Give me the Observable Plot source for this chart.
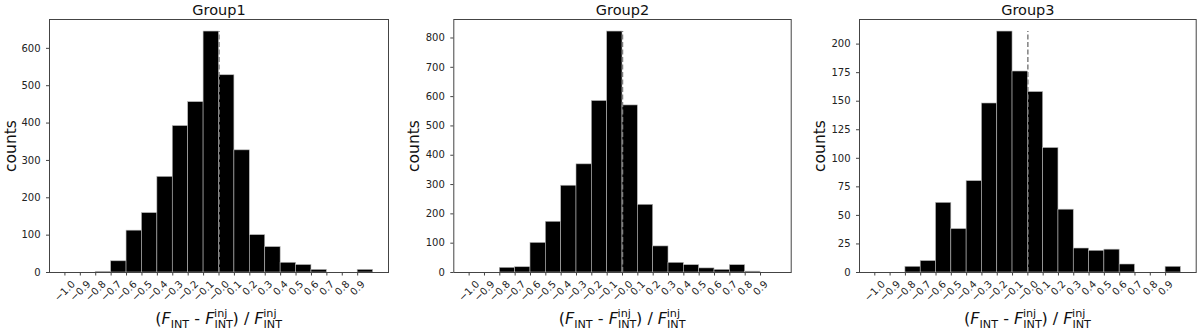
<!DOCTYPE html>
<html>
<head>
<meta charset="utf-8">
<script src="https://cdn.jsdelivr.net/npm/d3@7"></script>
<script src="https://cdn.jsdelivr.net/npm/@observablehq/plot@0.6"></script>
<style>
  body { margin: 0; background: #fff; }
  #wrap { display: flex; width: 1200px; height: 331px; overflow: hidden; }
</style>
</head>
<body>
<div id="wrap"></div>
<script>
// ---- data ----
const binStarts = [-1.0, -0.9, -0.8, -0.7, -0.6, -0.5, -0.4, -0.3, -0.2, -0.1, 0.0, 0.1, 0.2, 0.3, 0.4, 0.5, 0.6, 0.7, 0.8, 0.9];
const binWidth = 0.1;
const group1Counts = [0, 0, 2, 30, 112, 159, 256, 392, 456, 645, 528, 327, 100, 68, 26, 20, 7, 0, 0, 7];
const group2Counts = [0, 0, 16, 18, 101, 173, 296, 369, 585, 822, 570, 231, 89, 33, 25, 14, 9, 25, 3, 0];
const group3Counts = [0, 0, 5, 10, 61, 38, 80, 148, 211, 176, 158, 109, 55, 21, 19, 20, 7, 0, 0, 5];
const titles = ["Group1", "Group2", "Group3"];
const xTickValues = [-1.0, -0.9, -0.8, -0.7, -0.6, -0.5, -0.4, -0.3, -0.2, -0.1, 0.0, 0.1, 0.2, 0.3, 0.4, 0.5, 0.6, 0.7, 0.8, 0.9];
const xTickLabels = ["−1.0", "−0.9", "−0.8", "−0.7", "−0.6", "−0.5", "−0.4", "−0.3", "−0.2", "−0.1", "−0.0", "0.1", "0.2", "0.3", "0.4", "0.5", "0.6", "0.7", "0.8", "0.9"];
const yTicks1 = [0, 100, 200, 300, 400, 500, 600];
const yTicks2 = [0, 100, 200, 300, 400, 500, 600, 700, 800];
const yTicks3 = [0, 25, 50, 75, 100, 125, 150, 175, 200];
const yLabel = "counts";
const refLine = 0;

// ---- layout ----
const panels = [
  {title: titles[0], counts: group1Counts, yTicks: yTicks1, ml: 49, mr: 12, ylDx: -38},
  {title: titles[1], counts: group2Counts, yTicks: yTicks2, ml: 53.3, mr: 9.3, ylDx: -40},
  {title: titles[2], counts: group3Counts, yTicks: yTicks3, ml: 59, mr: 4.3, ylDx: -39.3}
];
const W = 400, H = 331, MT = 19, MB = 59;
const FONT = "DejaVu Sans";
const TICKFS = 10;

const xmin = binStarts[0], xmax = binStarts[binStarts.length - 1] + binWidth;
const xpad = (xmax - xmin) * 0.05;

const ticks = xTickValues.map((v, i) => ({v, label: xTickLabels[i]}));

function addXLabel(svg, cx, baseline) {
  const s = d3.select(svg);
  const big = 16, small = 11.2, dSub = 3.4, dSup = -7.4;
  const measure = (str, size) => {
    const t = s.append("text").style("font-family", FONT).style("font-size", size + "px").text(str);
    const w = t.node().getComputedTextLength();
    t.remove();
    return w;
  };
  const wINT = measure("INT", small), wInj = measure("inj", small);
  const t = s.append("text")
    .attr("x", cx).attr("y", baseline)
    .attr("text-anchor", "middle")
    .attr("fill", "#111")
    .style("font-family", FONT).style("font-size", big + "px");
  const span = (str, opts = {}) => {
    const e = t.append("tspan").text(str);
    if (opts.size) e.style("font-size", opts.size + "px");
    if (opts.italic) e.style("font-style", "italic");
    if (opts.dx) e.attr("dx", opts.dx);
    if (opts.dy) e.attr("dy", opts.dy);
    return e;
  };
  span("(");
  span("F", {italic: true});
  span("INT", {size: small, dy: dSub});
  span(" - ", {size: big, dy: -dSub});
  span("F", {italic: true});
  span("INT", {size: small, dy: dSub});
  span("inj", {size: small, dx: -wINT, dy: dSup - dSub});
  span(")", {size: big, dx: wINT - wInj, dy: -dSup});
  span(" / ", {size: big});
  span("F", {italic: true});
  span("INT", {size: small, dy: dSub});
  span("inj", {size: small, dx: -wINT, dy: dSup - dSub});
}

const wrap = document.getElementById("wrap");

for (const p of panels) {
  const data = binStarts.map((x, i) => ({x1: x, x2: x + binWidth, y: p.counts[i]}));
  const ymax = d3.max(p.counts);
  const chart = Plot.plot({
    width: W,
    height: H,
    marginLeft: p.ml,
    marginRight: p.mr,
    marginTop: MT,
    marginBottom: MB,
    style: {fontFamily: FONT, fontSize: TICKFS + "px", color: "#222", background: "white"},
    x: {domain: [xmin - xpad, xmax + xpad]},
    y: {domain: [0, ymax * 1.05]},
    marks: [
      Plot.rectY(data, {x1: "x1", x2: "x2", y: "y", fill: "black", stroke: "#b8b8b8", strokeWidth: 0.6}),
      Plot.ruleX([refLine], {x: d => d, y1: 0, y2: ymax, stroke: "#808080", strokeWidth: 1.5, strokeDasharray: "5,2.5"}),
      Plot.frame({stroke: "#444", strokeWidth: 1}),
      Plot.axisY({ticks: p.yTicks, tickSize: 3, tickPadding: 6, stroke: "#444", label: null, fontSize: TICKFS}),
      Plot.axisX({ticks: xTickValues, tickSize: 3.5, tickFormat: () => "", stroke: "#444", label: null}),
      Plot.text(ticks.filter(d => d.label.length > 3), {x: "v", text: "label", frameAnchor: "bottom", rotate: -45, textAnchor: "middle", lineAnchor: "middle", dy: 18.5, fontSize: TICKFS}),
      Plot.text(ticks.filter(d => d.label.length <= 3), {x: "v", text: "label", frameAnchor: "bottom", rotate: -45, textAnchor: "middle", lineAnchor: "middle", dy: 15.5, fontSize: TICKFS}),
      Plot.text([p.title], {frameAnchor: "top", dy: -9.5, fontSize: 14.5, lineAnchor: "middle", fill: "#111"}),
      Plot.text([yLabel], {frameAnchor: "left", rotate: -90, dx: p.ylDx, fontSize: 15.5, textAnchor: "middle", lineAnchor: "middle", fill: "#111"})
    ]
  });
  wrap.appendChild(chart);
  const cx = (p.ml + (W - p.mr)) / 2;
  addXLabel(chart, cx, 324.3);
}
</script>
</body>
</html>
